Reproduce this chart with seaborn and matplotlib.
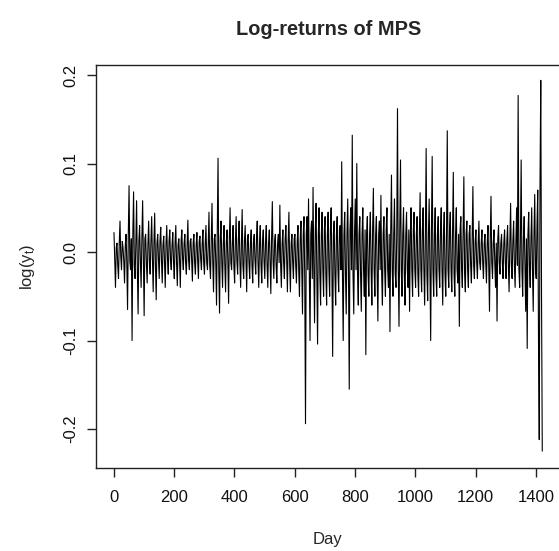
import matplotlib
matplotlib.use("Agg")
import matplotlib.pyplot as plt
import seaborn as sns
import numpy as np

# log-returns, one value about every 2.5 days
day = np.arange(1, 1422, 2.5)
log_return = [
    # days 1-100
    0.022, -0.01, -0.04, 0.005, 0.01, -0.015, -0.03, 0.01, 0.035, -0.005,
    -0.02, 0.012, 0.005, -0.01, -0.035, 0.008, 0.02, -0.012, -0.065, 0.02,
    0.075, -0.01, -0.02, 0.015, -0.1, 0.02, 0.068, -0.015, -0.03, 0.01,
    0.058, -0.02, -0.07, 0.012, 0.03, -0.01, -0.04, 0.015, 0.058, -0.01,
    # days 101-200
    -0.072, 0.015, 0.02, -0.012, -0.035, 0.008, 0.035, -0.01, -0.025, 0.012,
    0.04, -0.008, -0.045, 0.01, 0.044, -0.015, -0.054, 0.01, 0.02, -0.008,
    -0.03, 0.012, 0.028, -0.01, -0.035, 0.008, 0.018, -0.012, -0.04, 0.01,
    0.03, -0.008, -0.025, 0.012, 0.025, -0.01, -0.02, 0.008, 0.022, -0.012,
    # days 201-300
    -0.03, 0.01, 0.03, -0.012, -0.038, 0.008, 0.015, -0.01, -0.04, 0.012,
    0.025, -0.008, -0.02, 0.01, 0.02, -0.012, -0.025, 0.008, 0.036, -0.01,
    -0.02, 0.012, 0.015, -0.008, -0.033, 0.01, 0.02, -0.012, -0.025, 0.008,
    0.022, -0.01, -0.03, 0.012, 0.018, -0.008, -0.02, 0.01, 0.025, -0.012,
    # days 301-400
    -0.025, 0.01, 0.03, -0.012, -0.02, 0.008, 0.045, -0.015, -0.03, 0.012,
    0.055, -0.01, -0.045, 0.015, 0.02, -0.012, -0.06, 0.02, 0.106, -0.02,
    -0.069, 0.015, 0.035, -0.012, -0.04, 0.01, 0.03, -0.015, -0.045, 0.012,
    0.025, -0.01, -0.058, 0.015, 0.05, -0.012, -0.02, 0.01, 0.03, -0.015,
    # days 401-500
    -0.035, 0.012, 0.04, -0.01, -0.025, 0.015, 0.035, -0.012, -0.04, 0.01,
    0.048, -0.015, -0.03, 0.012, 0.03, -0.01, -0.045, 0.015, 0.02, -0.012,
    -0.03, 0.01, 0.025, -0.015, -0.035, 0.012, 0.02, -0.01, -0.025, 0.015,
    0.035, -0.012, -0.04, 0.01, 0.03, -0.015, -0.035, 0.012, 0.025, -0.01,
    # days 501-600
    -0.03, 0.012, 0.03, -0.015, -0.04, 0.01, 0.025, -0.012, -0.047, 0.015,
    0.057, -0.01, -0.03, 0.012, 0.02, -0.015, -0.035, 0.01, 0.02, -0.012,
    0.053, -0.015, -0.04, 0.01, 0.025, -0.012, -0.03, 0.015, 0.03, -0.01,
    -0.045, 0.012, 0.045, -0.015, -0.045, 0.01, 0.02, -0.012, -0.03, 0.015,
    # days 601-700
    0.02, -0.015, -0.035, 0.012, 0.03, -0.02, -0.05, 0.015, 0.035, -0.02,
    -0.07, 0.02, 0.04, -0.03, -0.194, 0.02, 0.04, -0.02, 0.06, -0.025,
    -0.1, 0.02, 0.035, -0.03, 0.073, -0.02, -0.08, 0.025, 0.055, -0.02,
    -0.104, 0.02, 0.05, -0.025, -0.06, 0.02, 0.045, -0.02, -0.05, 0.025,
    # days 701-800
    0.04, -0.025, -0.06, 0.02, 0.045, -0.02, -0.05, 0.025, 0.05, -0.02,
    -0.118, 0.02, 0.035, -0.025, -0.06, 0.02, 0.04, -0.02, -0.045, 0.025,
    0.03, -0.02, 0.102, -0.025, -0.1, 0.02, 0.045, -0.025, -0.07, 0.02,
    0.06, -0.02, -0.155, 0.025, 0.05, -0.02, 0.132, -0.025, -0.07, 0.02,
    # days 801-900
    0.06, -0.02, 0.1, -0.025, -0.06, 0.02, 0.04, -0.025, -0.067, 0.02,
    0.05, -0.02, -0.05, 0.025, -0.116, 0.02, 0.04, -0.025, -0.05, 0.02,
    0.045, -0.02, -0.06, 0.025, 0.072, -0.02, -0.05, 0.02, 0.04, -0.025,
    -0.078, 0.02, 0.035, -0.02, 0.064, -0.025, -0.06, 0.02, 0.04, -0.02,
    # days 901-1000
    -0.05, 0.025, 0.05, -0.02, -0.04, 0.02, -0.09, 0.025, 0.087, -0.02,
    -0.05, 0.02, 0.06, -0.025, -0.04, 0.02, 0.162, -0.02, -0.084, 0.025,
    0.104, -0.02, -0.05, 0.02, 0.05, -0.025, -0.06, 0.02, 0.045, -0.02,
    -0.04, 0.025, -0.067, 0.02, 0.05, -0.02, -0.05, 0.025, 0.045, -0.02,
    # days 1001-1100
    -0.04, 0.02, 0.04, -0.025, -0.05, 0.02, 0.067, -0.02, -0.045, 0.025,
    0.05, -0.02, -0.06, 0.02, 0.117, -0.025, -0.055, 0.02, 0.06, -0.02,
    -0.1, 0.025, 0.108, -0.02, -0.05, 0.02, 0.05, -0.025, -0.05, 0.02,
    0.04, -0.02, -0.04, 0.025, 0.05, -0.02, -0.06, 0.02, 0.045, -0.025,
    # days 1101-1200
    -0.05, 0.02, 0.137, -0.02, -0.04, 0.025, 0.045, -0.02, -0.045, 0.02,
    0.09, -0.025, -0.05, 0.02, 0.05, -0.02, -0.035, 0.02, -0.084, 0.025,
    0.04, -0.02, -0.04, 0.02, 0.085, -0.025, -0.045, 0.02, 0.035, -0.02,
    -0.04, 0.02, 0.03, -0.015, -0.035, 0.015, 0.074, -0.015, -0.03, 0.012,
    # days 1201-1300
    0.025, -0.012, -0.03, 0.01, 0.035, -0.012, -0.02, 0.01, 0.025, -0.012,
    -0.03, 0.01, 0.02, -0.012, -0.035, 0.01, 0.03, -0.015, -0.067, 0.015,
    0.063, -0.012, -0.03, 0.01, 0.025, -0.012, -0.04, 0.01, -0.078, 0.015,
    0.03, -0.012, -0.025, 0.01, 0.02, -0.012, -0.03, 0.01, 0.025, -0.012,
    # days 1301-1400
    -0.03, 0.012, 0.03, -0.015, -0.045, 0.012, 0.055, -0.015, -0.03, 0.012,
    0.035, -0.015, -0.04, 0.012, 0.05, -0.015, 0.177, -0.02, -0.04, 0.015,
    0.104, -0.02, -0.05, 0.015, 0.04, -0.015, -0.067, 0.015, -0.109, 0.02,
    0.045, -0.015, -0.04, 0.015, 0.05, -0.02, -0.067, 0.02, 0.065, -0.02,
    # days 1401-1421
    -0.03, 0.03, 0.07, -0.1, -0.212, 0.08, 0.194, -0.05, -0.225,
]
x_ticks = [0, 200, 400, 600, 800, 1000, 1200, 1400]
y_ticks = [-0.2, -0.1, 0.0, 0.1, 0.2]
y_tick_labels = ["-0.2", "-0.1", "0.0", "0.1", "0.2"]

assert len(day) == len(log_return)

sns.set_style("ticks")
plt.rcParams['font.family'] = ['Liberation Sans', 'DejaVu Sans']
plt.rcParams['axes.unicode_minus'] = False
plt.rcParams['mathtext.default'] = 'regular'

fig = plt.figure(figsize=(5.59, 5.51), dpi=100)
# the right edge of the box sits just past the picture, as in the original
ax = fig.add_axes([0.1726, 0.1512, 0.8304, 0.7303])

sns.lineplot(x=day, y=log_return, color='black', linewidth=0.8,
             estimator=None, sort=False, ax=ax)

ax.set_xlim(-57, 1482)
ax.set_ylim(-0.2437, 0.2110)
ax.set_xticks(x_ticks)
ax.set_xticklabels([str(t) for t in x_ticks])
ax.set_yticks(y_ticks)
ax.set_yticklabels(y_tick_labels)

for side in ['left', 'right', 'top', 'bottom']:
    ax.spines[side].set_visible(True)
    ax.spines[side].set_linewidth(1.0)
    ax.spines[side].set_color('#222222')

ax.tick_params(axis='both', direction='out', length=6.8, width=1.0,
               color='#222222', labelsize=12, labelcolor='#111111')
ax.tick_params(axis='x', pad=9)
ax.tick_params(axis='y', pad=6, labelrotation=90)
for lab in ax.get_yticklabels():
    lab.set_verticalalignment('center')

ax.set_title('Log-returns of MPS', fontsize=14.4, fontweight='bold', pad=22)
ax.set_xlabel('Day', fontsize=12)
ax.set_ylabel('log($y_t$)', fontsize=12)
ax.xaxis.set_label_coords(0.497, -0.16)
ax.yaxis.set_label_coords(-0.128, 0.5)

fig.savefig('out.png', dpi=100)
